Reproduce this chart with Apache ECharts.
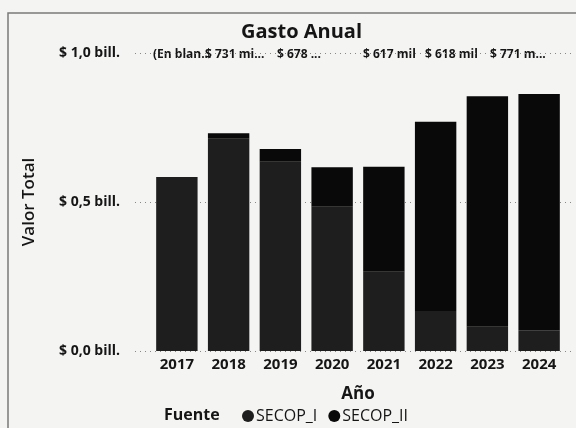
<!DOCTYPE html>
<html>
<head>
<meta charset="utf-8">
<script src="https://cdn.jsdelivr.net/npm/echarts@6/dist/echarts.min.js"></script>
<style>
html,body{margin:0;padding:0;background:#f4f4f3;}
#c{width:576px;height:428px;}
</style>
</head>
<body>
<div id="c"></div>
<script>
// ---- data ----
const years = ['2017','2018','2019','2020','2021','2022','2023','2024'];
const secopI  = [0.584, 0.712, 0.635, 0.484, 0.266, 0.134, 0.081, 0.070];
const secopII = [0.000, 0.019, 0.043, 0.133, 0.352, 0.635, 0.774, 0.792];
const seriesNames = ['SECOP_I', 'SECOP_II'];
const topLabels = ['(En blan...', '$ 731 mi...', '$ 678 ...', '$ 617 mil', '$ 618 mil', '$ 771 m...'];
const yTicks = [0, 0.5, 1.0];

// ---- layout ----
const FONT = '"Open Sans", "Noto Sans", sans-serif';
const INK = '#151515';
const topLabelX = [153, 205, 277, 363, 425, 490];
const chart = echarts.init(document.getElementById('c'));

const graphics = [
  { type: 'rect', shape: { x: 8, y: 13, width: 600, height: 440 },
    style: { fill: 'none', stroke: '#7a7a7a', lineWidth: 1.5 }, silent: true },
  { type: 'text', x: 164, y: 415,
    style: { text: 'Fuente', font: 'bold 16px ' + FONT, fill: INK, verticalAlign: 'middle' } }
];
topLabels.forEach((t, i) => {
  graphics.push({ type: 'text', x: topLabelX[i], y: 55,
    style: { text: t, font: 'bold 12px ' + FONT, fill: INK, verticalAlign: 'middle' } });
});

chart.setOption({
  backgroundColor: '#f4f4f3',
  animation: false,
  title: {
    text: 'Gasto Anual', left: 236, top: 17,
    textStyle: { fontFamily: FONT, fontWeight: 'bold', fontSize: 20, color: INK }
  },
  graphic: graphics,
  legend: {
    data: seriesNames, left: 237, top: 403, icon: 'circle',
    itemWidth: 12, itemHeight: 12, itemGap: 11,
    textStyle: { fontFamily: FONT, fontSize: 16, color: INK, padding: [0,0,0,-3] }
  },
  grid: [
    { left: 135, right: 1, top: 53, bottom: 77 },
    { left: 151, right: 11, top: 53, bottom: 77 }
  ],
  xAxis: [
    { type: 'category', gridIndex: 0, data: years, show: false },
    { type: 'category', gridIndex: 1, data: years,
      axisLine: { show: false }, axisTick: { show: false },
      axisLabel: { fontFamily: FONT, fontWeight: 'bold', fontSize: 15, color: INK, margin: 6 },
      name: 'Año', nameLocation: 'middle', nameGap: 35,
      nameTextStyle: { fontFamily: FONT, fontWeight: 'bold', fontSize: 17, color: INK } },
  ],
  yAxis: [
    { type: 'value', gridIndex: 0, min: 0, max: 1, interval: 0.5,
      axisLine: { show: false }, axisTick: { show: false },
      splitLine: { show: true, lineStyle: { type: [1, 4], color: '#888', width: 1 } },
      axisLabel: { fontFamily: FONT, fontWeight: 'bold', fontSize: 14, color: INK, margin: 15,
        formatter: v => yTicks.includes(v) ? '$ ' + v.toFixed(1).replace('.', ',') + ' bill.' : '' },
      name: 'Valor Total', nameLocation: 'middle', nameGap: 97,
      nameTextStyle: { fontFamily: FONT, fontWeight: 600, fontSize: 17, color: INK } },
    { type: 'value', gridIndex: 1, min: 0, max: 1, interval: 0.5, show: false,
      splitLine: { show: false } }
  ],
  series: [
    { name: seriesNames[0], type: 'bar', stack: 't', xAxisIndex: 1, yAxisIndex: 1,
      data: secopI, barCategoryGap: '20%', itemStyle: { color: '#1e1e1e' } },
    { name: seriesNames[1], type: 'bar', stack: 't', xAxisIndex: 1, yAxisIndex: 1,
      data: secopII, barCategoryGap: '20%', itemStyle: { color: '#090909' } }
  ]
});
</script>
</body>
</html>
